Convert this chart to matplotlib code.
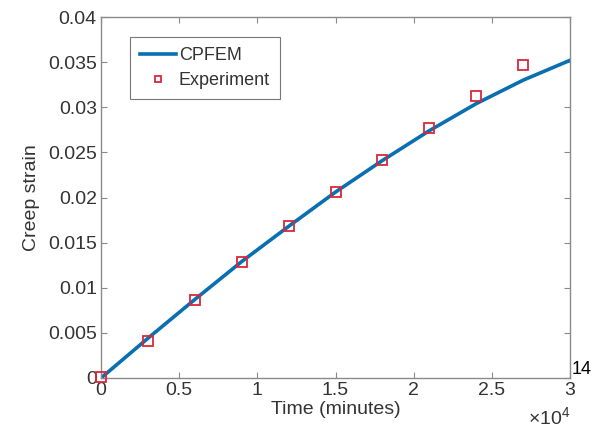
import matplotlib.pyplot as plt
import numpy as np

plt.rcParams["font.family"] = ["Liberation Sans", "DejaVu Sans"]
plt.rcParams["mathtext.fontset"] = "custom"
plt.rcParams["mathtext.rm"] = "Liberation Sans"

# CPFEM curve (time in units of 1e4 minutes)
sim_time = [0, 0.3, 0.6, 0.9, 1.2, 1.5, 1.8, 2.1, 2.4, 2.7, 3.0]
sim_strain = [0, 0.0044, 0.0087, 0.0129, 0.0168, 0.0206, 0.0241,
              0.0274, 0.0304, 0.0330, 0.0352]

# experimental points
exp_time = [0, 0.3, 0.6, 0.9, 1.2, 1.5, 1.8, 2.1, 2.4, 2.7]
exp_strain = [0.0001, 0.0041, 0.0086, 0.0129, 0.0168, 0.0206, 0.0242,
              0.0277, 0.0312, 0.0347]

xticks = [0, 0.5, 1, 1.5, 2, 2.5, 3]
xticklabels = ["0", "0.5", "1", "1.5", "2", "2.5", "3"]
yticks = [0, 0.005, 0.01, 0.015, 0.02, 0.025, 0.03, 0.035, 0.04]
yticklabels = ["0", "0.005", "0.01", "0.015", "0.02", "0.025", "0.03", "0.035", "0.04"]

AX_GRAY = "#8a8a8a"
TXT = "#333333"

fig = plt.figure(figsize=(5.92, 4.30), dpi=100)
ax = fig.add_axes([101 / 592, 1 - 378 / 430, 469 / 592, 361 / 430])

ax.plot(sim_time, sim_strain, color="#0a6fb0", lw=2.6, label="CPFEM", zorder=2)
ax.plot(exp_time, exp_strain, ls="none", marker="s", ms=7, mfc="none",
        mec="#d9283a", mew=1.3, label="Experiment", zorder=3, clip_on=False)

ax.set_xlim(0, 3)
ax.set_ylim(0, 0.04)
ax.set_xticks(xticks)
ax.set_xticklabels(xticklabels)
ax.set_yticks(yticks)
ax.set_yticklabels(yticklabels)
ax.tick_params(direction="in", length=4, width=0.8, color=AX_GRAY,
               labelsize=14, labelcolor=TXT, top=True, right=True, pad=3)
for s in ax.spines.values():
    s.set_color(AX_GRAY)
    s.set_linewidth(1.0)

ax.set_xlabel("Time (minutes)", fontsize=14, color=TXT, labelpad=1)
ax.set_ylabel("Creep strain", fontsize=14, color=TXT, labelpad=6)

fig.text(570 / 592, 1 - 418 / 430, r"$\times\mathrm{10}^\mathrm{4}$", fontsize=14,
         color=TXT, ha="right", va="center")
fig.text(572 / 592, 1 - 370 / 430, "14", fontsize=13, color="black",
         ha="left", va="center")

leg = ax.legend(loc="upper left", bbox_to_anchor=(29 / 469, 1 - 20 / 361),
                fontsize=13, frameon=True, fancybox=False, handlelength=2.0,
                borderpad=0.55, labelspacing=0.45, handletextpad=0.15,
                borderaxespad=0, markerscale=0.7)
leg.get_frame().set_edgecolor("#555555")
leg.get_frame().set_linewidth(0.8)
for t in leg.get_texts():
    t.set_color(TXT)

fig.savefig("out.png", dpi=100)
